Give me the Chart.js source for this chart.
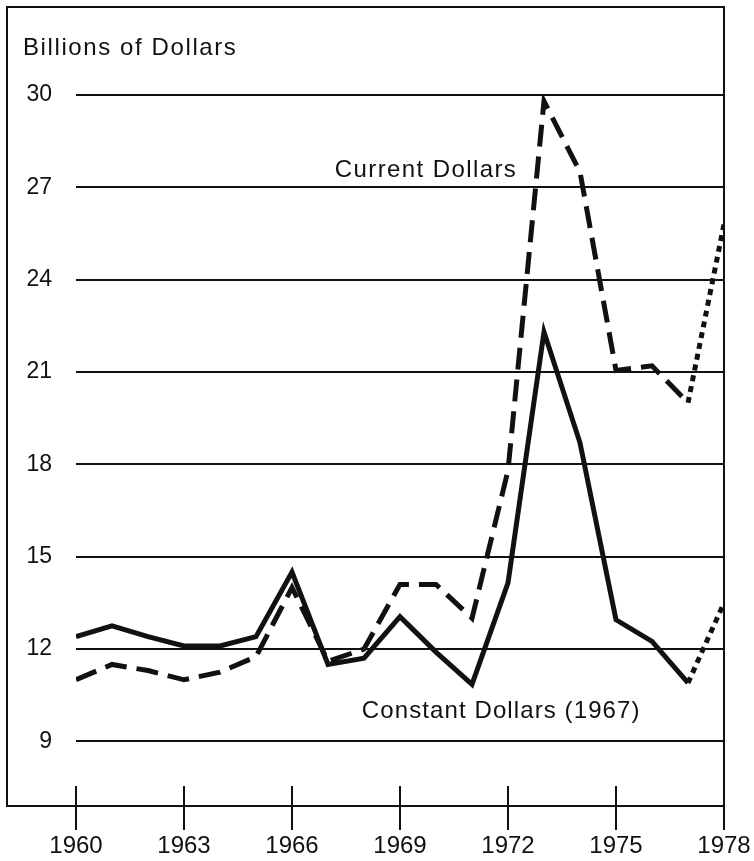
<!DOCTYPE html>
<html>
<head>
<meta charset="utf-8">
<script src="https://cdn.jsdelivr.net/npm/chart.js@4.4.1/dist/chart.umd.min.js"></script>
<style>
  html, body { margin: 0; padding: 0; background: #fff; }
  #wrap { position: relative; width: 754px; height: 861px; }
</style>
</head>
<body>
<div id="wrap"><canvas id="chart"></canvas></div>
<script>
// values (billions of dollars)
const years = [1960, 1961, 1962, 1963, 1964, 1965, 1966, 1967, 1968, 1969,
               1970, 1971, 1972, 1973, 1974, 1975, 1976, 1977, 1978];
const constantDollars = [12.4, 12.75, 12.4, 12.1, 12.1, 12.4, 14.5, 11.5, 11.7, 13.05,
                         11.9, 10.85, 14.15, 22.3, 18.7, 12.95, 12.25, 10.9, 13.5];
const currentDollars = [11.0, 11.5, 11.3, 11.0, 11.25, 11.75, 14.0, 11.6, 12.0, 14.1,
                        14.1, 13.0, 17.8, 29.8, 27.5, 21.05, 21.2, 20.0, 25.8];
const yTicks = [9, 12, 15, 18, 21, 24, 27, 30];
const xTicks = [1960, 1963, 1966, 1969, 1972, 1975, 1978];
const unitLabel = "Billions of Dollars";
const currentLabel = "Current Dollars";
const constantLabel = "Constant Dollars (1967)";

const FONT = '"Liberation Sans", Arial, Helvetica, sans-serif';
const INK = "#111";
const DASH = [22, 10];

// last segment (1977-78) is an estimate, printed dotted
const lastSeg = (ctx) => (ctx.p0DataIndex >= years.length - 2 ? [6, 5] : undefined);

function toPoints(vals) {
    return years.map((yr, i) => ({ x: yr, y: vals[i] }));
}

// frame, unit caption, inner half of the x ticks and the series captions
const framePlugin = {
    id: "frame",
    afterDraw(chart) {
        const { ctx, chartArea: a, scales } = chart;
        const x = scales.x, y = scales.y;
        ctx.save();
        ctx.strokeStyle = INK;
        ctx.lineWidth = 2;
        ctx.beginPath();
        ctx.moveTo(a.right, a.bottom);
        ctx.lineTo(7, a.bottom);
        ctx.lineTo(7, 7);
        ctx.lineTo(a.right, 7);
        ctx.lineTo(a.right, a.bottom);
        ctx.stroke();

        // tick marks also poke up into the plot
        xTicks.forEach((t) => {
            const px = Math.round(x.getPixelForValue(t));
            ctx.beginPath();
            ctx.moveTo(px, a.bottom - 20);
            ctx.lineTo(px, a.bottom);
            ctx.stroke();
        });

        ctx.fillStyle = INK;
        ctx.textAlign = "left";
        ctx.textBaseline = "alphabetic";
        ctx.font = "24px " + FONT;
        ctx.letterSpacing = "1.6px";
        ctx.fillText(unitLabel, 23, 55);
        ctx.letterSpacing = "1.4px";
        ctx.fillText(currentLabel, x.getPixelForValue(1967.19), y.getPixelForValue(27.33));
        ctx.letterSpacing = "1.1px";
        ctx.fillText(constantLabel, x.getPixelForValue(1967.94), y.getPixelForValue(9.75));
        ctx.restore();
    },
};

const ctx = document.getElementById("chart").getContext("2d");
new Chart(ctx, {
    type: "line",
    data: {
        datasets: [
            {
                label: constantLabel,
                data: toPoints(constantDollars),
                borderColor: INK,
                borderWidth: 5,
                borderDash: [],
                borderJoinStyle: "miter",
                pointRadius: 0,
                tension: 0,
                segment: { borderDash: lastSeg },
            },
            {
                label: currentLabel,
                data: toPoints(currentDollars),
                borderColor: INK,
                borderWidth: 5,
                borderDash: DASH,
                borderJoinStyle: "miter",
                pointRadius: 0,
                tension: 0,
                segment: { borderDash: (c) => lastSeg(c) || DASH },
            },
        ],
    },
    options: {
        responsive: true,
        maintainAspectRatio: false,
        animation: false,
        layout: { padding: { top: 95, right: 30, left: 0, bottom: 0 } },
        scales: {
            x: {
                type: "linear",
                min: 1960,
                max: 1978,
                afterBuildTicks: (s) => { s.ticks = xTicks.map((v) => ({ value: v })); },
                afterFit: (s) => { s.height = 55; },
                grid: {
                    drawOnChartArea: false,
                    drawTicks: true,
                    tickLength: 24,
                    color: INK,
                    lineWidth: 2,
                },
                border: { display: true, color: INK, width: 2 },
                ticks: {
                    autoSkip: false,
                    maxRotation: 0,
                    padding: 2,
                    color: INK,
                    font: { family: FONT, size: 24 },
                    callback: (v) => String(v),
                },
            },
            y: {
                min: 6.9,
                max: 30,
                afterBuildTicks: (s) => { s.ticks = yTicks.map((v) => ({ value: v })); },
                afterFit: (s) => { s.width = 76; },
                grid: { drawTicks: false, color: INK, lineWidth: 2 },
                border: { display: false },
                ticks: {
                    padding: 24,
                    color: INK,
                    font: { family: FONT, size: 23 },
                    callback: (v) => String(v),
                },
            },
        },
        plugins: {
            legend: { display: false },
            tooltip: { enabled: false },
        },
    },
    plugins: [framePlugin],
});
</script>
</body>
</html>
